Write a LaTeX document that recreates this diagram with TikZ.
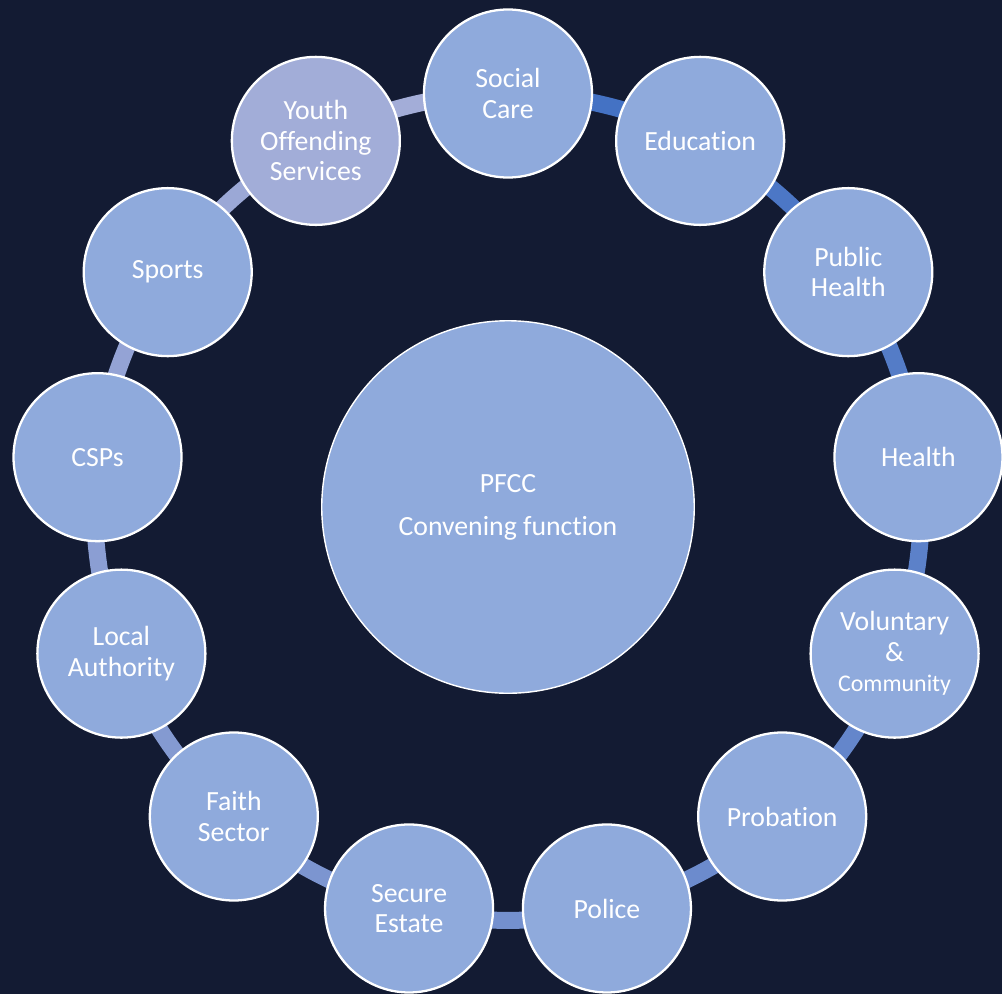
\documentclass[tikz,border=0pt]{standalone}
\usepackage{fontspec}
\setmainfont{Carlito}[Ligatures=CommonOff]
\usetikzlibrary{backgrounds}
\definecolor{navy}{HTML}{131B33}
\definecolor{discfill}{HTML}{8FAADC}
\definecolor{youthfill}{HTML}{A2ADD8}
\definecolor{ringdark}{HTML}{4472C4}
\definecolor{ringlight}{HTML}{A3ADD8}
\tikzset{
	partner/.style={circle, draw=white, line width=1.3pt, fill=discfill, minimum size=3.36cm,
		inner sep=0pt, align=center, text=white, font=\fontsize{15.8}{17.4}\selectfont},
	hub/.style={partner, minimum size=7.45cm, line width=0.8pt},
	ringseg/.style={line width=0.34cm, bend left=13.85, looseness=0.86}
}
\def\ringR{8.27}

\begin{document}
\begin{tikzpicture}
		%%%%% START %%%%%
		\useasboundingbox (-10.16, -9.74) rectangle (9.88, 10.14);
		
		\node[hub] (pfcc) at (0, 0) {PFCC\\[7pt]Convening function};
		
		\node[partner] (n0) at (90:\ringR) {Social\\Care};
		\node[partner] (n1) at ({90-1*360/13}:\ringR) {Education};
		\node[partner] (n2) at ({90-2*360/13}:\ringR) {Public\\Health};
		\node[partner] (n3) at ({90-3*360/13}:\ringR) {Health};
		\node[partner] (n4) at ({90-4*360/13}:\ringR) {Voluntary\\\&\\{\fontsize{13.6}{15}\selectfont Community}};
		\node[partner] (n5) at ({90-5*360/13}:\ringR) {Probation};
		\node[partner] (n6) at ({90-6*360/13}:\ringR) {Police};
		\node[partner] (n7) at ({90-7*360/13}:\ringR) {Secure\\Estate};
		\node[partner] (n8) at ({90-8*360/13}:\ringR) {Faith\\Sector};
		\node[partner] (n9) at ({90-9*360/13}:\ringR) {Local\\Authority};
		\node[partner] (n10) at ({90-10*360/13}:\ringR) {CSPs};
		\node[partner] (n11) at ({90-11*360/13}:\ringR) {Sports};
		\node[partner, fill=youthfill] (n12) at ({90-12*360/13}:\ringR) {Youth\\Offending\\Services};
		
		\begin{scope}[on background layer]
			\fill[navy] (-10.16, -9.74) rectangle (9.88, 10.14);
			% ring links, dark blue fading to lavender
			\foreach \k in {0,...,12} {
				\pgfmathtruncatemacro\nxt{mod(\k+1,13)}
				\pgfmathtruncatemacro\mix{100-\k*100/12}
				\draw[ringseg, ringdark!\mix!ringlight] (n\k.center) to (n\nxt.center);
			}
		\end{scope}
		%%%%% END %%%%%
	\end{tikzpicture}
\end{document}
